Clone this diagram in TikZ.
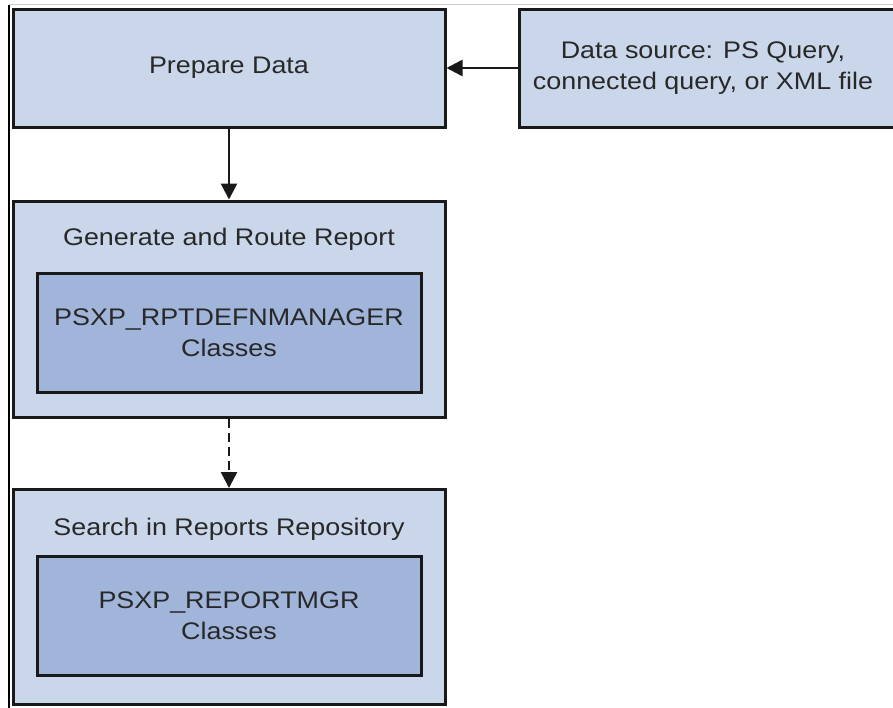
\documentclass[tikz,border=0pt]{standalone}
\usepackage{fontspec}
\setmainfont{Liberation Sans}[FakeStretch=1.12]
\usetikzlibrary{arrows.meta}
\definecolor{outerfill}{RGB}{202,215,234}
\definecolor{innerfill}{RGB}{161,181,219}
\definecolor{edgecol}{RGB}{25,25,25}
\definecolor{txtcol}{RGB}{40,40,40}
\definecolor{framegray}{RGB}{205,205,205}
\tikzset{
  outerbox/.style={draw=edgecol, line width=3pt, fill=outerfill, rectangle, inner sep=0pt},
  innerbox/.style={draw=edgecol, line width=3pt, fill=innerfill, rectangle, inner sep=0pt,
    minimum width=384pt, minimum height=119pt, align=center, text=txtcol,
    font=\fontsize{24}{31.5}\selectfont},
  lbl/.style={text=txtcol, font=\fontsize{24}{31.5}\selectfont, align=center, inner sep=0pt},
  conn/.style={draw=edgecol, line width=2.6pt, -{Triangle[length=16pt,width=16pt]}},
}
\begin{document}
\begin{tikzpicture}[x=1pt,y=-1pt]
\useasboundingbox (0,0) rectangle (893,707);
% frame lines
\coordinate (ftl) at (9,4.5);
\coordinate (ftr) at (895,4.5);
\coordinate (fbl) at (9,708);
\draw[framegray, line width=1.5pt] (ftl) -- (ftr);
\draw[black, line width=1.5pt] (ftl) -- (fbl);
% boxes
\node[outerbox, minimum width=432pt, minimum height=118pt, lbl] (prep) at (229,68) {Prepare Data};
\node[outerbox, minimum width=400pt, minimum height=118pt] (src) at (719,68) {};
\node[lbl] (srctext) at (703,68) {Data source: PS Query,\\connected query, or XML file};
\node[outerbox, minimum width=432pt, minimum height=216pt] (gen) at (229,309) {};
\node[lbl, anchor=base] (gentitle) at (229,245) {Generate and Route Report};
\node[innerbox] (genin) at (229,332.5) {PSXP\_RPTDEFNMANAGER\\Classes};
\node[outerbox, minimum width=432pt, minimum height=215pt] (srch) at (229,597) {};
\node[lbl, anchor=base] (srchtitle) at (229,535) {Search in Reports Repository};
\node[innerbox] (srchin) at (229,615.5) {PSXP\_REPORTMGR\\Classes};
% connectors
\draw[conn] (src.west) -- (prep.east);
\draw[conn] (prep.south) -- (gen.north);
\draw[conn, dash pattern=on 9pt off 5pt] (gen.south) -- (srch.north);
\end{tikzpicture}
\end{document}
